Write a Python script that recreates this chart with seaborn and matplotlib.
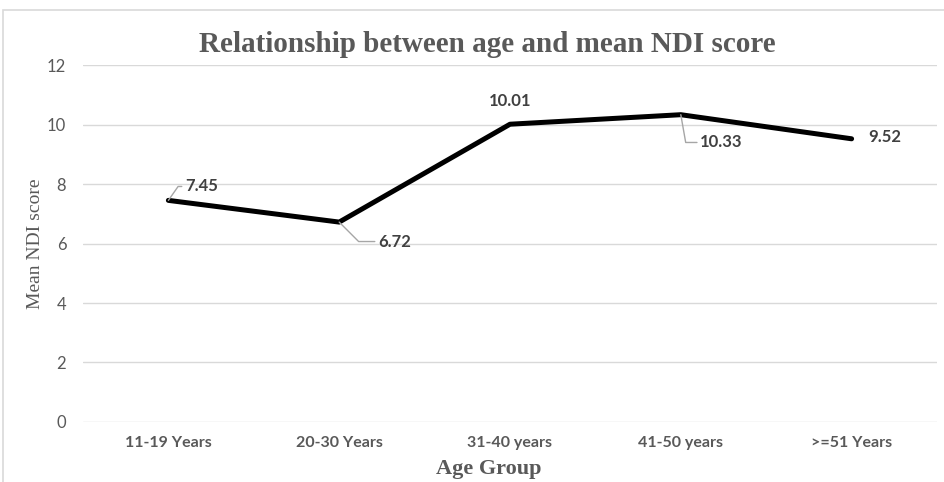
import matplotlib
matplotlib.use("Agg")
import matplotlib.pyplot as plt
import seaborn as sns
import pandas as pd
from matplotlib.patches import Rectangle

age_groups = ["11-19 Years", "20-30 Years", "31-40 years", "41-50 years", ">=51 Years"]
mean_ndi = [7.45, 6.72, 10.01, 10.33, 9.52]
y_ticks = [0, 2, 4, 6, 8, 10, 12]

sns.set_theme(style="white")
plt.rcParams["font.family"] = ["Lato", "DejaVu Sans"]

df = pd.DataFrame({"Age Group": age_groups, "Mean NDI score": mean_ndi})

fig = plt.figure(figsize=(9.44, 4.82), dpi=100)
ax = fig.add_axes([0.0879, 0.1245, 0.9047, 0.7406])

# outer chart frame
fig.patches.append(Rectangle((3 / 944, -0.1), 1.2, 1 - 10 / 482 + 0.1,
                             transform=fig.transFigure, fill=False,
                             edgecolor="#d9d9d9", linewidth=1.2, zorder=0))

x_pos = list(range(len(age_groups)))
df["x"] = x_pos
sns.lineplot(data=df, x="x", y="Mean NDI score", ax=ax, color="black",
             linewidth=3.6, zorder=3)

ax.set_xlim(-0.5, len(age_groups) - 0.5)
ax.set_ylim(0, 12)
ax.set_yticks(y_ticks)
ax.set_xticks(x_pos)
ax.set_xticklabels(age_groups, fontsize=11.5, fontweight="bold", color="#595959")
ax.set_yticklabels([str(t) for t in y_ticks], fontsize=12, color="#595959")
ax.tick_params(axis="y", length=0, pad=12)
ax.tick_params(axis="x", length=0, pad=10)
ax.grid(axis="y", color="#d9d9d9", linewidth=1)
ax.set_axisbelow(True)
for s in ax.spines.values():
    s.set_visible(False)

ax.set_ylabel("Mean NDI score", fontsize=14, color="#595959",
              family=["Liberation Serif"], labelpad=2)
ax.set_xlabel("")
fig.text(489 / 944, 1 - 469 / 482, "Age Group", fontsize=16, fontweight="bold",
         color="#595959", family=["Liberation Serif"], ha="center", va="center")
fig.text(487 / 944, 1 - 44 / 482, "Relationship between age and mean NDI score",
         fontsize=21, fontweight="bold", color="#595959",
         family=["Liberation Serif"], ha="center", va="center")

lab_kw = dict(fontsize=12, fontweight="bold", color="#404040",
              textcoords="offset points", va="center", ha="left")
leader = dict(arrowstyle="-", color="#a6a6a6", lw=1, shrinkA=0, shrinkB=0)

ax.annotate(f"{mean_ndi[0]:.2f}", (0, mean_ndi[0]), xytext=(12, 10),
            arrowprops=dict(leader, connectionstyle="angle,angleA=0,angleB=55"),
            **lab_kw)
ax.annotate(f"{mean_ndi[1]:.2f}", (1, mean_ndi[1]), xytext=(28, -14),
            arrowprops=dict(leader, connectionstyle="angle,angleA=0,angleB=-45"),
            **lab_kw)
ax.annotate(f"{mean_ndi[2]:.2f}", (2, mean_ndi[2]), xytext=(0, 17),
            fontsize=12, fontweight="bold", color="#404040",
            textcoords="offset points", va="center", ha="center")
ax.annotate(f"{mean_ndi[3]:.2f}", (3, mean_ndi[3]), xytext=(14, -20),
            arrowprops=dict(leader, connectionstyle="angle,angleA=0,angleB=-80"),
            **lab_kw)
ax.annotate(f"{mean_ndi[4]:.2f}", (4, mean_ndi[4]), xytext=(12, 1),
            **lab_kw)

fig.savefig("out.png", dpi=100)
